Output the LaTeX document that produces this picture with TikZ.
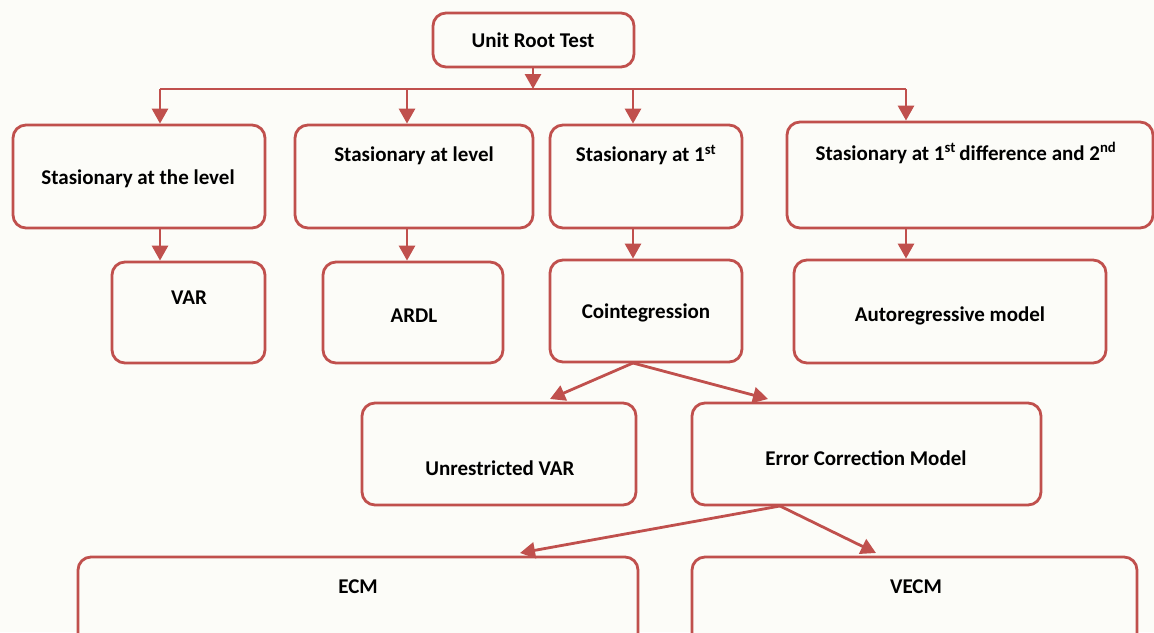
\documentclass[tikz,border=0pt]{standalone}
\usepackage{fontspec}
\setmainfont{Carlito}
\usetikzlibrary{arrows.meta}
\definecolor{boxred}{HTML}{C0504D}
\definecolor{bgc}{HTML}{FCFCF8}
\tikzset{
  box/.style={draw=boxred, line width=2.8pt, rounded corners=13pt, fill=bgc, inner sep=0pt},
  lbl/.style={font=\fontsize{21}{24}\selectfont\bfseries, text=black, inner sep=0pt},
  arr/.style={draw=boxred, line width=2.8pt, -{Triangle[width=16pt,length=15pt]}},
  ln/.style={draw=boxred, line width=2.8pt}
}
\newcommand{\bx}[6]{\node[box, minimum width=#4pt, minimum height=#5pt] (#1) at (#2,#3) {};}
\begin{document}
\begin{tikzpicture}[x=1pt,y=-1pt]
\fill[bgc] (0,0) rectangle (1154,632);
\useasboundingbox (0,0) rectangle (1154,632);
% boxes
\bx{root}{533.5}{40}{201}{54}{}
\bx{A}{139}{176.5}{252}{103}{}
\bx{B}{414}{176.5}{238}{103}{}
\bx{C}{646}{176.5}{192}{103}{}
\bx{D}{970}{175}{366}{106}{}
\bx{var}{188.5}{312.5}{153}{101}{}
\bx{ardl}{413}{312.5}{180}{101}{}
\bx{coint}{646}{311}{192}{102}{}
\bx{auto}{950}{311.5}{312}{103}{}
\bx{uvar}{499}{454}{274}{102}{}
\bx{errc}{866.5}{454}{349}{102}{}
\bx{ecm}{358}{608}{560}{102}{}
\bx{vecm}{914.5}{608}{445}{102}{}
% labels
\node[lbl] (troot) at (533,40) {Unit Root Test};
\node[lbl] (tA) at (138,179) {Stasionary at the level};
\node[lbl] (tB) at (414,156) {Stasionary at level};
\node[lbl] (tC) at (646,155) {Stasionary at 1\textsuperscript{st}};
\node[lbl] (tD) at (966,153) {Stasionary at 1\textsuperscript{st}\,difference and 2\textsuperscript{nd}};
\node[lbl] (tvar) at (189,298) {VAR};
\node[lbl] (tardl) at (414,316) {ARDL};
\node[lbl] (tcoint) at (646,313) {Cointegression};
\node[lbl] (tauto) at (950,316) {Autoregressive model};
\node[lbl] (tuvar) at (500,468) {Unrestricted VAR};
\node[lbl] (terrc) at (866,458) {Error Correction Model};
\node[lbl] (tecm) at (358,587) {ECM};
\node[lbl] (tvecm) at (916,587) {VECM};
% bus
\coordinate (bus) at (533,89);
\coordinate (t1) at (160,89);
\coordinate (t2) at (407,89);
\coordinate (t3) at (633,89);
\coordinate (t4) at (906,89);
\draw[arr] (bus |- root.south) -- (bus);
\draw[ln] (t1) -- (t4);
\draw[arr] (t1) -- (t1 |- A.north);
\draw[arr] (t2) -- (t2 |- B.north);
\draw[arr] (t3) -- (t3 |- C.north);
\draw[arr] (t4) -- (t4 |- D.north);
\draw[arr] (t1 |- A.south) -- (t1 |- var.north);
\draw[arr] (t2 |- B.south) -- (t2 |- ardl.north);
\draw[arr] (t3 |- C.south) -- (t3 |- coint.north);
\draw[arr] (t4 |- D.south) -- (t4 |- auto.north);
% diagonal
\coordinate (c0) at (633,363);
\coordinate (c1) at (550,399);
\coordinate (c2) at (768,399);
\draw[arr] (c0) -- (c1);
\draw[arr] (c0) -- (c2);
\coordinate (e0) at (780,506);
\coordinate (e1) at (520,553);
\coordinate (e2) at (876,553);
\draw[arr] (e0) -- (e1);
\draw[arr] (e0) -- (e2);
\end{tikzpicture}
\end{document}
